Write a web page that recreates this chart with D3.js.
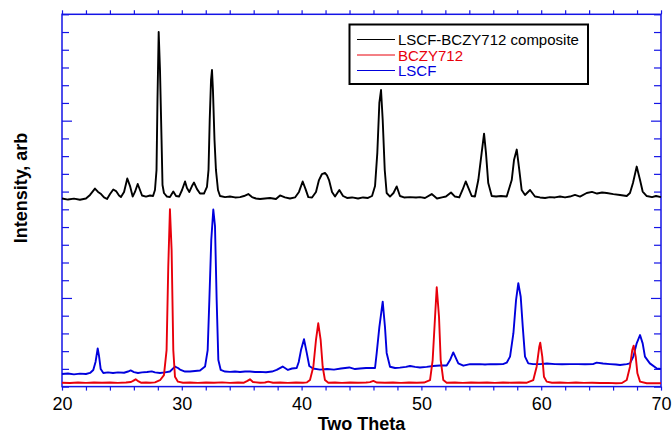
<!DOCTYPE html>
<html>
<head>
<meta charset="utf-8">
<script src="https://cdn.jsdelivr.net/npm/d3@7"></script>
<style>
  body { margin: 0; background: #fff; }
  svg { display: block; font-family: "Liberation Sans", Arial, sans-serif; }
</style>
</head>
<body>
<script>
// XRD patterns, [two theta, counts]
var composite = [
  [20.00,1061],[20.50,1055],[21.00,1060],[21.50,1054],[22.00,1061],[22.34,1081],[22.75,1117],[23.01,1098],
  [23.26,1086],[23.51,1067],[23.76,1058],[24.01,1086],[24.28,1112],[24.51,1103],[24.76,1078],[24.92,1069],
  [25.18,1098],[25.45,1174],[25.68,1131],[25.90,1072],[26.09,1098],[26.32,1143],[26.51,1109],[26.68,1078],
  [27.01,1072],[27.35,1078],[27.60,1075],[27.76,1109],[27.89,1222],[27.97,1616],[28.07,2000],[28.18,1786],
  [28.31,1391],[28.39,1137],[28.51,1092],[28.76,1072],[29.01,1069],[29.29,1100],[29.52,1075],[29.77,1072],
  [30.02,1109],[30.27,1157],[30.43,1120],[30.63,1098],[30.85,1131],[31.02,1151],[31.27,1114],[31.52,1089],
  [31.85,1089],[32.10,1126],[32.23,1222],[32.33,1504],[32.44,1729],[32.52,1786],[32.60,1673],[32.73,1391],
  [32.85,1222],[33.02,1109],[33.19,1075],[33.61,1069],[34.02,1072],[34.44,1067],[34.86,1069],[35.19,1075],
  [35.55,1086],[35.86,1069],[36.19,1061],[36.53,1058],[36.94,1061],[37.36,1064],[37.86,1058],[38.20,1078],
  [38.61,1067],[39.03,1061],[39.45,1067],[39.78,1098],[40.09,1157],[40.33,1114],[40.56,1069],[40.87,1067],
  [41.20,1098],[41.45,1165],[41.70,1199],[41.95,1205],[42.12,1191],[42.29,1165],[42.54,1098],[42.79,1072],
  [43.15,1109],[43.46,1075],[43.79,1064],[44.21,1067],[44.71,1061],[45.13,1067],[45.54,1064],[45.88,1075],
  [46.13,1131],[46.32,1318],[46.49,1600],[46.63,1673],[46.77,1504],[46.94,1222],[47.10,1092],[47.38,1072],
  [47.67,1092],[47.94,1129],[48.21,1075],[48.55,1067],[49.05,1069],[49.55,1067],[49.88,1069],[50.30,1064],
  [50.86,1086],[51.30,1061],[51.72,1067],[52.05,1072],[52.47,1095],[52.80,1072],[53.16,1067],[53.43,1109],
  [53.70,1157],[53.93,1120],[54.20,1075],[54.47,1072],[54.75,1165],[55.03,1318],[55.23,1427],[55.39,1318],
  [55.58,1148],[55.87,1075],[56.23,1072],[56.64,1075],[57.12,1072],[57.54,1165],[57.73,1278],[57.96,1337],
  [58.17,1222],[58.37,1109],[58.65,1081],[59.07,1109],[59.48,1072],[59.90,1067],[60.32,1064],[60.73,1069],
  [61.15,1067],[61.57,1072],[61.99,1067],[62.40,1072],[62.82,1081],[63.24,1072],[63.80,1092],[64.24,1098],
  [64.66,1089],[65.08,1095],[65.47,1092],[66.02,1086],[66.58,1081],[67.14,1075],[67.41,1092],[67.66,1148],
  [67.97,1241],[68.25,1165],[68.47,1100],[68.81,1075],[69.25,1069],[69.58,1075],[70.00,1069]
];

var bczy = [
  [20.00,22],[20.67,20],[21.34,23],[22.00,21],[22.67,23],[23.34,22],[24.01,23],[24.67,21],[25.34,23],
  [25.76,26],[25.93,32],[26.15,41],[26.39,29],[26.59,22],[27.01,23],[27.35,22],[27.76,24],[28.18,36],
  [28.51,65],[28.73,206],[28.87,676],[29.01,1000],[29.15,770],[29.29,206],[29.43,56],[29.68,28],[30.10,22],
  [30.68,23],[31.35,21],[32.02,23],[32.69,22],[33.36,24],[34.02,21],[34.69,23],[35.19,22],[35.48,32],
  [35.69,41],[35.94,26],[36.53,22],[36.94,23],[37.22,28],[37.61,22],[38.20,23],[38.86,21],[39.53,23],
  [40.12,22],[40.45,24],[40.70,37],[40.98,112],[41.20,263],[41.39,357],[41.59,263],[41.76,112],[41.95,37],
  [42.23,22],[42.79,23],[43.37,21],[44.04,23],[44.71,22],[45.38,23],[45.71,25],[45.99,32],[46.29,23],
  [46.96,22],[47.63,23],[48.30,21],[48.96,23],[49.63,22],[50.22,23],[50.72,37],[50.94,150],[51.14,394],
  [51.28,560],[51.47,394],[51.61,150],[51.83,37],[52.11,22],[52.80,23],[53.47,21],[54.14,23],[54.81,22],
  [55.48,23],[56.14,21],[56.81,23],[57.48,22],[58.15,23],[58.81,22],[59.34,37],[59.62,112],[59.84,225],
  [59.92,248],[60.09,169],[60.23,56],[60.46,28],[60.90,22],[61.57,23],[62.24,21],[62.90,23],[63.57,21],
  [64.24,22],[64.91,20],[65.58,21],[66.24,19],[66.74,20],[67.14,37],[67.41,112],[67.60,206],[67.72,231],
  [67.89,169],[68.03,75],[68.25,28],[68.81,19],[69.42,19],[70.00,19]
];

var lscf = [
  [20.00,71],[20.50,74],[21.00,69],[21.50,73],[22.00,71],[22.34,77],[22.61,94],[22.80,139],[22.98,215],
  [23.09,173],[23.23,99],[23.45,77],[23.84,80],[24.26,77],[24.67,80],[25.18,78],[25.51,85],[25.73,91],
  [26.01,82],[26.34,77],[26.68,80],[27.10,82],[27.49,86],[27.76,80],[28.18,77],[28.60,80],[29.01,85],
  [29.43,113],[29.68,105],[29.85,96],[30.27,85],[30.68,85],[31.10,88],[31.52,91],[31.94,113],[32.16,206],
  [32.30,488],[32.46,827],[32.63,999],[32.77,906],[32.91,488],[33.05,150],[33.25,94],[33.61,85],[34.02,83],
  [34.44,85],[34.86,82],[35.28,85],[35.69,85],[36.11,82],[36.53,83],[37.03,81],[37.53,85],[37.92,94],
  [38.42,113],[38.86,94],[39.20,102],[39.59,105],[39.76,139],[39.95,206],[40.20,267],[40.43,190],[40.64,116],
  [40.95,102],[41.54,96],[42.12,99],[42.70,96],[43.29,102],[43.98,108],[44.46,99],[44.87,102],[45.38,105],
  [45.79,105],[46.13,105],[46.27,190],[46.49,336],[46.77,479],[46.96,336],[47.10,190],[47.38,112],[47.80,105],
  [48.21,107],[48.71,111],[49.05,116],[49.47,111],[49.88,108],[50.44,111],[50.97,116],[51.55,119],[52.11,119],
  [52.39,150],[52.66,193],[53.08,131],[53.50,118],[54.06,127],[54.47,126],[54.89,127],[55.31,125],[55.73,127],
  [56.23,126],[56.81,127],[57.12,135],[57.40,169],[57.68,301],[57.90,488],[58.09,583],[58.29,507],[58.46,338],
  [58.65,169],[58.92,131],[59.32,127],[59.90,127],[60.48,130],[61.15,127],[61.74,126],[62.40,127],[63.07,127],
  [63.66,126],[64.32,127],[64.63,135],[65.16,130],[65.74,127],[66.24,125],[66.58,122],[67.14,127],[67.41,131],
  [67.69,169],[67.97,244],[68.25,291],[68.47,244],[68.66,169],[69.07,131],[69.63,103],[70.00,99]
];

var seriesNames = ["LSCF-BCZY712 composite", "BCZY712", "LSCF"];
var seriesColors = ["#000000", "#e8000b", "#0000dd"];
var xLabels = [20, 30, 40, 50, 60, 70];

var width = 672, height = 434;
var plotLeft = 62, plotRight = 661, plotTop = 14.3, plotBottom = 386.6;
var axisColor = "#1414e6";

var svg = d3.select("body").append("svg")
    .attr("width", width)
    .attr("height", height);

var x = d3.scaleLinear().domain([20, 70]).range([plotLeft, plotRight]);
var y = d3.scaleLinear().domain([0, 2100]).range([plotBottom, plotTop]);

var xMinor = d3.range(20, 70.1, 2);
var yMinor = d3.range(0, 2100.1, 100);

function styleAxis(g) {
  g.select(".domain").remove();
  g.selectAll(".tick line").attr("stroke", axisColor).attr("stroke-width", 1.2);
}

// bottom axis, ticks outward
svg.append("g")
    .attr("transform", "translate(0," + plotBottom + ")")
    .call(d3.axisBottom(x).tickValues(xMinor).tickSize(4).tickPadding(6.5)
      .tickFormat(function(d) { return xLabels.indexOf(d) >= 0 ? d : ""; }))
    .call(styleAxis)
    .selectAll("text")
      .attr("fill", "#000")
      .style("font-size", "18px");

// top axis, no labels
svg.append("g")
    .attr("transform", "translate(0," + plotTop + ")")
    .call(d3.axisTop(x).tickValues(xMinor).tickSize(4).tickFormat(""))
    .call(styleAxis);

// left and right axes, ticks inward
var leftAx = svg.append("g")
    .attr("transform", "translate(" + plotLeft + ",0)")
    .call(d3.axisRight(y).tickValues(yMinor).tickSize(7).tickFormat(""))
    .call(styleAxis);
leftAx.selectAll(".tick line").attr("x2", function(d) { return d % 1000 == 500 ? 10 : 7; });

var rightAx = svg.append("g")
    .attr("transform", "translate(" + plotRight + ",0)")
    .call(d3.axisLeft(y).tickValues(yMinor).tickSize(7).tickFormat(""))
    .call(styleAxis);
rightAx.selectAll(".tick line").attr("x2", function(d) { return d % 1000 == 500 ? -10 : -7; });

// frame
svg.append("rect")
    .attr("x", plotLeft).attr("y", plotTop)
    .attr("width", plotRight - plotLeft).attr("height", plotBottom - plotTop)
    .attr("fill", "none")
    .attr("stroke", axisColor)
    .attr("stroke-width", 1.5);

var line = d3.line()
    .x(function(d) { return x(d[0]); })
    .y(function(d) { return y(d[1]); });

var allSeries = [composite, bczy, lscf];
// blue first, then red, then black
[2, 1, 0].forEach(function(i) {
  svg.append("path")
      .datum(allSeries[i])
      .attr("d", line)
      .attr("fill", "none")
      .attr("stroke", seriesColors[i])
      .attr("stroke-width", 1.9)
      .attr("stroke-linejoin", "round");
});

// legend
var legend = svg.append("g");
legend.append("rect")
    .attr("x", 349.5).attr("y", 24.5)
    .attr("width", 238.5).attr("height", 59.5)
    .attr("fill", "#fff")
    .attr("stroke", "#000")
    .attr("stroke-width", 2);

seriesNames.forEach(function(name, i) {
  var ly = 39.5 + i * 15.5;
  legend.append("line")
      .attr("x1", 357).attr("x2", 395)
      .attr("y1", ly).attr("y2", ly)
      .attr("stroke", seriesColors[i])
      .attr("stroke-width", 1);
  legend.append("text")
      .attr("x", 398)
      .attr("y", ly + 5.5)
      .attr("fill", seriesColors[i])
      .style("font-size", "15px")
      .text(name);
});

// axis titles
svg.append("text")
    .attr("x", (plotLeft + plotRight) / 2)
    .attr("y", 429.5)
    .attr("text-anchor", "middle")
    .style("font-size", "18px")
    .style("font-weight", "bold")
    .text("Two Theta");

svg.append("text")
    .attr("transform", "translate(27,188) rotate(-90)")
    .attr("text-anchor", "middle")
    .style("font-size", "18px")
    .style("font-weight", "bold")
    .text("Intensity, arb");
</script>
</body>
</html>
